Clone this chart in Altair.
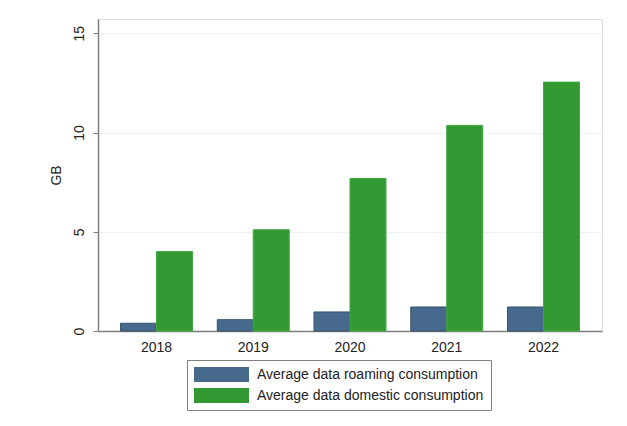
import altair as alt
import pandas as pd

years = ["2018", "2019", "2020", "2021", "2022"]
series = ["Average data roaming consumption", "Average data domestic consumption"]
roaming = [0.39, 0.57, 0.96, 1.21, 1.21]
domestic = [4.0, 5.1, 7.68, 10.36, 12.54]
colors = ["#476a8c", "#339933"]
strokes = ["#35536f", "#3fa83f"]
y_ticks = [0, 5, 10, 15]

rows = []
for i, yr in enumerate(years):
    rows.append({"year": yr, "series": series[0], "order": 0, "value": roaming[i]})
    rows.append({"year": yr, "series": series[1], "order": 1, "value": domestic[i]})
df = pd.DataFrame(rows)

font = "Liberation Sans"

chart = alt.Chart(df).mark_bar(strokeWidth=1).encode(
    x=alt.X("year:N", title=None,
            scale=alt.Scale(paddingInner=0.256, paddingOuter=0.233),
            axis=alt.Axis(labelAngle=0, ticks=False, labelPadding=9, labelFontSize=14,
                          labelFont=font, labelColor="#222222", domainColor="#7f7f7f",
                          domainWidth=1.5)),
    xOffset=alt.XOffset("order:O"),
    y=alt.Y("value:Q", title="GB",
            scale=alt.Scale(domain=[0, 15.72], nice=False, zero=True),
            axis=alt.Axis(values=y_ticks, labelAngle=270, labelAlign="center",
                          labelBaseline="bottom", labelPadding=7, tickSize=5,
                          tickColor="#7f7f7f", domainColor="#7f7f7f", domainWidth=1.5,
                          gridColor="#eaf4f4", grid=True, labelFontSize=14,
                          labelFont=font, labelColor="#222222",
                          titleFont=font, titleFontSize=14, titleFontWeight="normal",
                          titleColor="#222222", titlePadding=9)),
    fill=alt.Fill("series:N", sort=series,
                  scale=alt.Scale(domain=series, range=colors),
                  legend=alt.Legend(title=None, orient="none", legendX=89, legendY=341,
                                    direction="vertical",
                                    symbolType="M-3.67,-1L3.67,-1L3.67,1L-3.67,1Z",
                                    symbolSize=225, symbolOffset=20, labelOffset=28,
                                    symbolStrokeWidth=0, padding=7, rowPadding=6,
                                    strokeColor="#7f7f7f", labelFont=font,
                                    labelFontSize=14, labelColor="#222222",
                                    labelExpr="datum.label + '\u00a0\u00a0\u00a0\u00a0'",
                                    labelLimit=400)),
    stroke=alt.Stroke("series:N", scale=alt.Scale(domain=series, range=strokes),
                      legend=None),
).properties(
    width=504, height=312,
    autosize=alt.AutoSizeParams(type="none"),
    padding={"left": 90, "top": 11, "right": 17, "bottom": 87},
).configure_view(stroke=None).configure(background="white")

chart.save("out.html", embed_options={"renderer": "svg", "actions": False})
